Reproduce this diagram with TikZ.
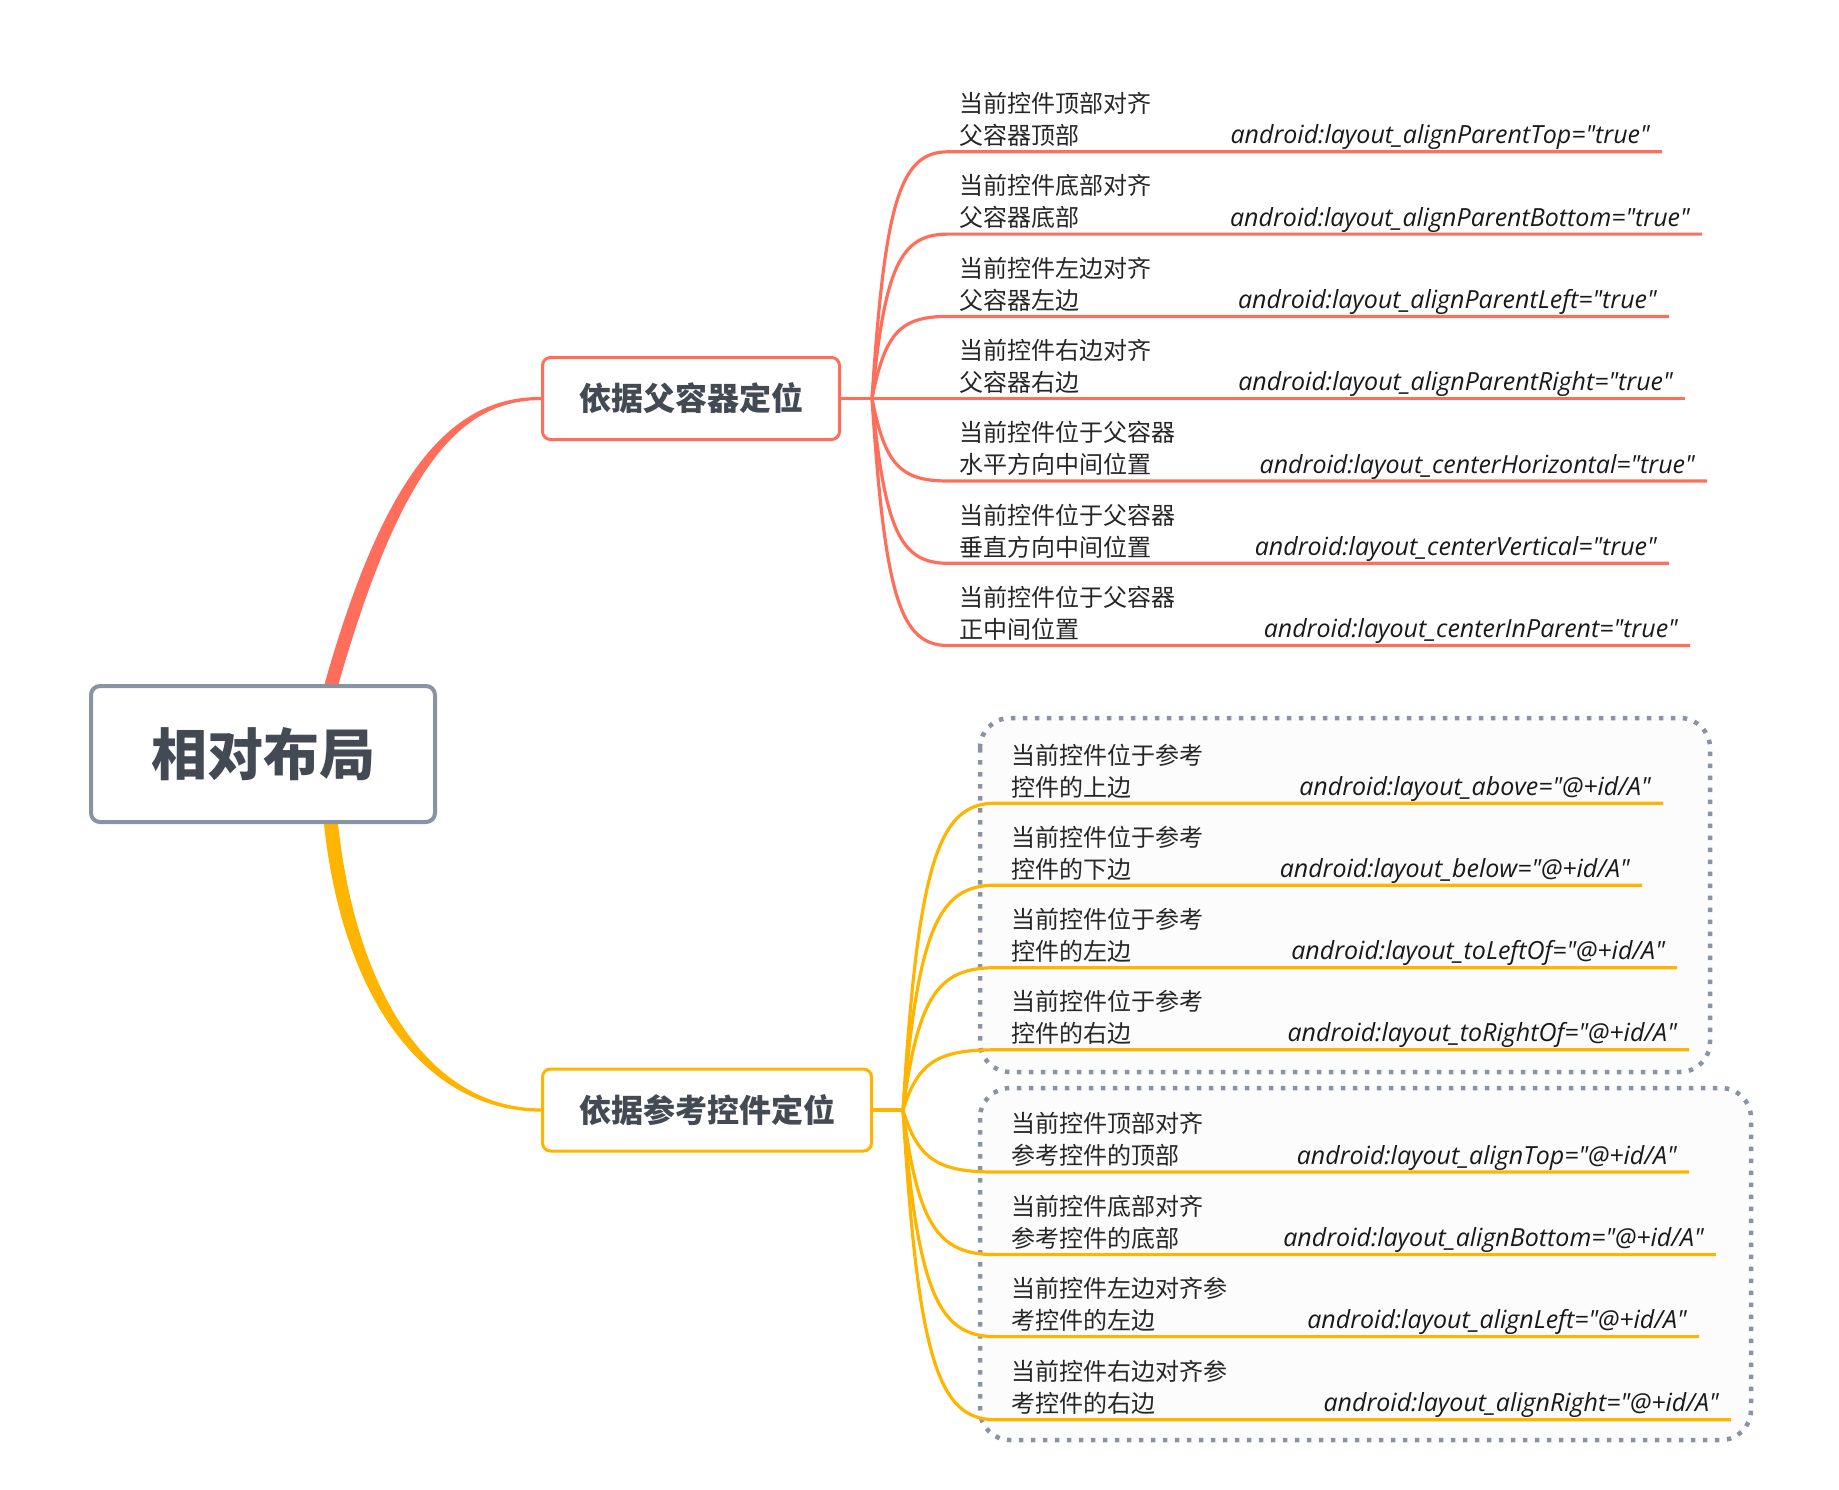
\documentclass[tikz,border=0pt]{standalone}
\usepackage{fontspec}
\setmainfont{Open Sans}[Ligatures=TeXOff]
\newfontfamily\cjk{Noto Sans CJK SC}
\usetikzlibrary{calc,backgrounds}

\definecolor{redc}{HTML}{FF6E5A}
\definecolor{yelc}{HTML}{FFB400}
\definecolor{rootgray}{HTML}{8893A4}
\definecolor{ink}{HTML}{434A54}
\definecolor{dotgray}{HTML}{8A93A3}
\definecolor{boxfill}{HTML}{FCFCFC}

\tikzset{
  rootbox/.style={draw=rootgray, line width=4pt, rounded corners=9pt, fill=white,
    minimum width=344pt, minimum height=136pt, text=ink,
    font=\cjk\bfseries\fontsize{56}{60}\selectfont},
  topicbox/.style={line width=3pt, rounded corners=8pt, fill=white,
    minimum height=82pt, text=ink, font=\cjk\bfseries\fontsize{32}{36}\selectfont},
  leaftext/.style={anchor=south west, inner sep=0pt, align=left, text=black!85,
    font=\cjk\fontsize{24}{32}\selectfont},
  codetext/.style={anchor=base east, inner sep=0pt, text=black!90,
    font=\itshape\fontsize{25}{28}\selectfont},
  branchline/.style={line width=3.2pt},
  dotbox/.style={draw=dotgray, fill=boxfill, line width=4.5pt,
    dash pattern=on 4.5pt off 7.5pt, rounded corners=30pt}
}

\begin{document}
\begin{tikzpicture}[x=1pt,y=-1pt]
\useasboundingbox (0,0) rectangle (1839,1489);
% dotted groups
\draw[dotbox] (980,718) rectangle (1710,1072);
\draw[dotbox] (980,1088) rectangle (1751,1440);
% topics
\node[rootbox] (root) at (263,754) {相对布局};
\node[topicbox, draw=redc, minimum width=297pt] (parent) at (691,398.5) {依据父容器定位};
\node[topicbox, draw=yelc, minimum width=329pt] (refer) at (707,1110) {依据参考控件定位};
% tapered main branches
\begin{scope}[on background layer]
\coordinate (rs) at (331,686);
\coordinate (ys) at (331,824);
\fill[redc] ([xshift=-7pt]rs) .. controls (388,458) and (458,396.9) .. ($(parent.west)+(0,-1.6)$)
  -- ($(parent.west)+(0,1.6)$) .. controls (462,400.1) and (402,462) .. ([xshift=7pt]rs) -- cycle;
\fill[yelc] ([xshift=-7pt]ys) .. controls (343,1003) and (428,1111.6) .. ($(refer.west)+(0,1.6)$)
  -- ($(refer.west)+(0,-1.6)$) .. controls (432,1108.4) and (357,997) .. ([xshift=7pt]ys) -- cycle;
\end{scope}
% parent leaves
\coordinate (pj) at (872,398.5);
\draw[branchline, redc] (parent.east) -- (pj);
\foreach \y/\e/\la/\lb/\code [count=\i] in {
  151.8/1662/当前控件顶部对齐/父容器顶部/{android:layout\_alignParentTop="true"},
  234.1/1702/当前控件底部对齐/父容器底部/{android:layout\_alignParentBottom="true"},
  316.4/1669/当前控件左边对齐/父容器左边/{android:layout\_alignParentLeft="true"},
  398.5/1685/当前控件右边对齐/父容器右边/{android:layout\_alignParentRight="true"},
  481/1707/当前控件位于父容器/水平方向中间位置/{android:layout\_centerHorizontal="true"},
  563.3/1669/当前控件位于父容器/垂直方向中间位置/{android:layout\_centerVertical="true"},
  645.5/1690/当前控件位于父容器/正中间位置/{android:layout\_centerInParent="true"}}{
  \coordinate (ps\i) at (948,\y);
  \coordinate (pe\i) at (\e,\y);
  \draw[branchline, redc] (pj) .. controls (885,{\y+0.2*(398.5-\y)}) and (900,\y) .. (ps\i) -- (pe\i);
  \node[leaftext] (pl\i) at (959,\y-5) {\la\\\lb};
  \node[codetext] (pc\i) at (\e-12,\y-8) {\code};
}
% reference leaves
\coordinate (rj) at (903,1110);
\draw[branchline, yelc] (refer.east) -- (rj);
\foreach \y/\e/\la/\lb/\code [count=\i] in {
  803.2/1663/当前控件位于参考/控件的上边/{android:layout\_above="@+id/A"},
  885.2/1642/当前控件位于参考/控件的下边/{android:layout\_below="@+id/A"},
  967.7/1677/当前控件位于参考/控件的左边/{android:layout\_toLeftOf="@+id/A"},
  1049.8/1689/当前控件位于参考/控件的右边/{android:layout\_toRightOf="@+id/A"},
  1172/1689/当前控件顶部对齐/参考控件的顶部/{android:layout\_alignTop="@+id/A"},
  1254.6/1716/当前控件底部对齐/参考控件的底部/{android:layout\_alignBottom="@+id/A"},
  1336.6/1699/当前控件左边对齐参/考控件的左边/{android:layout\_alignLeft="@+id/A"},
  1419.7/1731/当前控件右边对齐参/考控件的右边/{android:layout\_alignRight="@+id/A"}}{
  \coordinate (rs\i) at (995,\y);
  \coordinate (re\i) at (\e,\y);
  \draw[branchline, yelc] (rj) .. controls (918,{\y+0.2*(1110-\y)}) and (938,\y) .. (rs\i) -- (re\i);
  \node[leaftext] (rl\i) at (1011,\y-5) {\la\\\lb};
  \node[codetext] (rc\i) at (\e-12,\y-8) {\code};
}
\end{tikzpicture}
\end{document}
